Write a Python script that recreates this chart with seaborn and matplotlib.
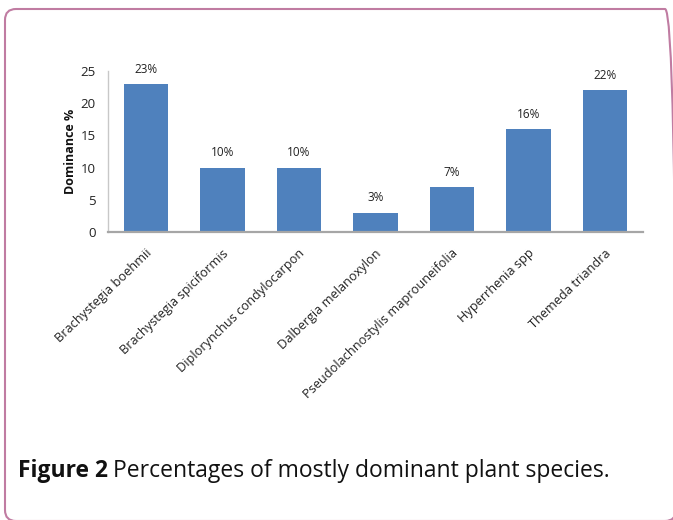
import matplotlib
matplotlib.use("Agg")
import matplotlib.pyplot as plt
import matplotlib.transforms as mtransforms
from matplotlib.patches import FancyBboxPatch
import seaborn as sns
import pandas as pd

species = [
    "Brachystegia boehmii",
    "Brachystegia spiciformis",
    "Diplorynchus condylocarpon",
    "Dalbergia melanoxylon",
    "Pseudolachnostylis maprouneifolia",
    "Hyperrhenia spp",
    "Themeda triandra",
]
dominance = [23, 10, 10, 3, 7, 16, 22]
y_ticks = [0, 5, 10, 15, 20, 25]

df = pd.DataFrame({"species": species, "dominance": dominance})

sns.set_theme(style="white")
plt.rcParams["font.family"] = ["Open Sans", "DejaVu Sans"]

fig = plt.figure(figsize=(6.73, 5.2), dpi=100)
W, H = 673, 520

# rounded frame around the figure panel
frame = FancyBboxPatch((5, -1), 671, 512, boxstyle="round,pad=0,rounding_size=11",
                       transform=mtransforms.IdentityTransform(), fill=False,
                       edgecolor="#C07CA2", linewidth=1.5, zorder=0)
fig.patches.append(frame)

ax = fig.add_axes([108 / W, 1 - 232 / H, (643 - 108) / W, (232 - 71) / H])
sns.barplot(data=df, x="species", y="dominance", color="#4F81BD", width=0.58,
            saturation=1, ax=ax, edgecolor="none")

ax.set_ylim(0, 25)
ax.set_xlim(-0.5, len(species) - 0.5)
ax.set_yticks(y_ticks)
ax.set_yticklabels([str(t) for t in y_ticks], fontsize=9.5, color="#222222")
ax.set_ylabel("Dominance %", fontsize=9, fontweight="bold", color="#111111", labelpad=2)
ax.set_xlabel("")

for s in ["top", "right"]:
    ax.spines[s].set_visible(False)
ax.spines["left"].set_color("#C8C8C8")
ax.spines["left"].set_linewidth(1.0)
ax.spines["bottom"].set_color("#A6A6A6")
ax.spines["bottom"].set_linewidth(1.6)
ax.tick_params(axis="y", length=0, pad=9)
ax.tick_params(axis="x", length=0, pad=14)

ax.set_xticks(range(len(species)))
ax.set_xticklabels(species, rotation=44, ha="right", va="center",
                   rotation_mode="anchor", fontsize=9.2, color="#222222")
offset = mtransforms.ScaledTranslation(4 / 100, 0, fig.dpi_scale_trans)
for lbl in ax.get_xticklabels():
    lbl.set_transform(lbl.get_transform() + offset)

for container in ax.containers:
    ax.bar_label(container, labels=[f"{v}%" for v in dominance], padding=6,
                 fontsize=8.5, color="#222222")

cap_y = 1 - 471 / H
fig.text(18 / W, cap_y, "Figure 2", fontsize=16.5, fontweight="bold",
         color="#111111", va="center", ha="left")
fig.text(113 / W, cap_y, "Percentages of mostly dominant plant species.",
         fontsize=16.5, color="#111111", va="center", ha="left")

fig.savefig("out.png", dpi=100)
